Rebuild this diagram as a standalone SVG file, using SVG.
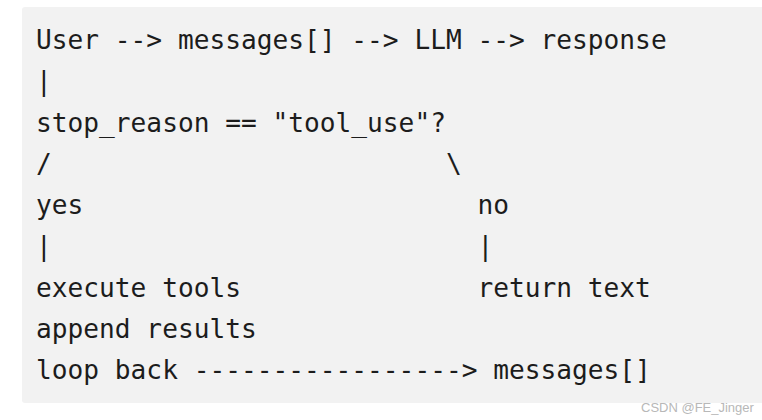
<svg xmlns="http://www.w3.org/2000/svg" width="762" height="420" viewBox="0 0 762 420">
<style>
.code{font-family:"DejaVu Sans Mono",monospace;font-size:26.2px;fill:#1c1c1c;white-space:pre}
.wm{font-family:"Liberation Sans",Arial,sans-serif;font-size:13px;fill:#b8b8b8}
</style>
<rect x="0" y="0" width="762" height="420" fill="#ffffff"/>
<g id="codeblock">
<rect x="22" y="7" width="745" height="396" rx="3" fill="#f2f2f2"/>
<text class="code" xml:space="preserve" x="36" y="49">User --&gt; messages[] --&gt; LLM --&gt; response</text>
<text class="code" xml:space="preserve" x="36" y="90.25">|</text>
<text class="code" xml:space="preserve" x="36" y="131.5">stop_reason == "tool_use"?</text>
<text class="code" xml:space="preserve" x="36" y="172.75">/                         \</text>
<text class="code" xml:space="preserve" x="36" y="214">yes                         no</text>
<text class="code" xml:space="preserve" x="36" y="255.25">|                           |</text>
<text class="code" xml:space="preserve" x="36" y="296.5">execute tools               return text</text>
<text class="code" xml:space="preserve" x="36" y="337.75">append results</text>
<text class="code" xml:space="preserve" x="36" y="379">loop back -----------------&gt; messages[]</text>
</g>
<text class="wm" x="641" y="412">CSDN @FE_Jinger</text>
</svg>
